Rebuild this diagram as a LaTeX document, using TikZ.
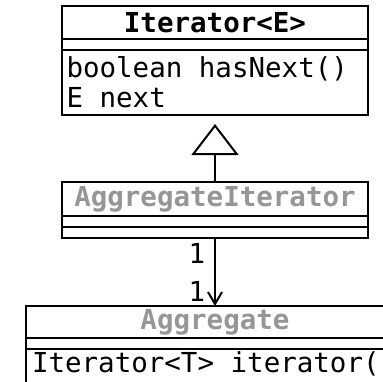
\documentclass[tikz,border=0pt]{standalone}
\usepackage{fontspec}
\setmonofont{DejaVu Sans Mono}
\usetikzlibrary{arrows.meta}
\definecolor{ttlgray}{RGB}{150,150,150}
\begin{document}
\begin{tikzpicture}[x=1pt,y=-1pt, line width=2pt,
  box/.style={draw, rectangle, inner sep=0pt, outer sep=0pt, anchor=north west},
  txt/.style={font=\fontsize{27.5}{30}\selectfont\ttfamily, inner sep=0pt},
  ttl/.style={font=\fontsize{27.5}{30}\selectfont\ttfamily\bfseries, inner sep=0pt},
  gttl/.style={ttl, text=ttlgray}]
\useasboundingbox (0,0) rectangle (383,381);
\clip (0,0) rectangle (383,381);
% Iterator<E>
\node[box, minimum width=306pt, minimum height=33pt] (itT) at (62,6) {};
\node[box, minimum width=306pt, minimum height=11pt] (itA) at (62,39) {};
\node[box, minimum width=306pt, minimum height=65pt] (itM) at (62,50) {};
\node[ttl] (itTt) at (itT.center) {Iterator<E>};
\node[txt, anchor=base west] (itM1) at (65.5,77) {boolean hasNext()};
\node[txt, anchor=base west] (itM2) at (65.5,107) {E next};
% AggregateIterator
\node[box, minimum width=306pt, minimum height=34pt] (aiT) at (62,182) {};
\node[box, minimum width=306pt, minimum height=11pt] (aiA) at (62,216) {};
\node[box, minimum width=306pt, minimum height=11pt] (aiM) at (62,227) {};
\node[gttl] (aiTt) at (aiT.center) {AggregateIterator};
% Aggregate
\node[box, minimum width=378pt, minimum height=32pt] (agT) at (26,306) {};
\node[box, minimum width=378pt, minimum height=11pt] (agA) at (26,338) {};
\node[box, minimum width=378pt, minimum height=60pt] (agM) at (26,349) {};
\node[gttl] (agTt) at (agT.center) {Aggregate};
\node[txt, anchor=base west] (agM1) at (31,372) {Iterator<T> iterator(};
% connectors
\draw[-{Triangle[open, length=31pt, width=47pt]}, shorten >=9pt] (aiT.north) -- (itM.south);
\draw[-{Straight Barb[length=12pt, width=14pt]}] (aiM.south) -- (agT.north);
\node[txt] (m1) at (197,253) {1};
\node[txt] (m2) at (197,291) {1};
\end{tikzpicture}
\end{document}
